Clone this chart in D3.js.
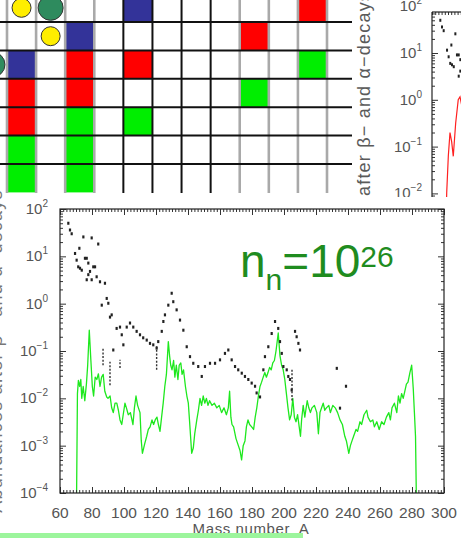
<!DOCTYPE html>
<html><head><meta charset="utf-8">
<script src="https://cdn.jsdelivr.net/npm/d3@7"></script>
<style>
body{margin:0;background:#fff}
svg{display:block}
text{font-family:"Liberation Sans",Arial,Helvetica,sans-serif}
</style>
</head><body>
<svg id="c" width="461" height="538"></svg>
<script>
// ---------------- DATA ----------------
const massTicks = [60,80,100,120,140,160,180,200,220,240,260,280,300];
const decadeExps = [-4,-3,-2,-1,0,1,2];
const upperDecadeExps = [-2,-1,0,1,2];
const yLabelText = "Abundances after \u03b2\u2212 and \u03b1\u2212decays";
const xLabelText = "Mass number  A";

// green: calculated abundances, n_n = 10^26  [mass number, abundance]
const greenSeries = [
[70.3,5.0e-5],[70.9,1.26e-2],[71.5,2.4e-2],[72.3,1.78e-2],[73.0,2.5e-2],[73.6,1.0e-2],[74.5,1.78e-2],[75.5,8.9e-3],
[76.5,2.0e-2],[77.3,5.0e-2],[78.3,2.75e-1],[79.3,6.3e-2],[80.2,1.78e-2],[81.0,1.12e-2],[82.0,2.8e-2],[83.0,2.5e-2],
[84.0,3.3e-2],[85.0,1.78e-2],[86.0,2.8e-2],[87.0,3.2e-2],[88.0,1.41e-2],[89.2,1.07e-2],[90.0,1.0e-2],[91.3,1.12e-2],
[92.3,6.3e-3],[93.3,5.0e-3],[94.4,7.9e-3],[95.5,7.9e-3],[96.5,5.6e-3],[97.5,3.5e-3],[98.6,2.8e-3],[99.5,4.5e-3],
[100.6,7.9e-3],[101.5,6.3e-3],[102.7,4.5e-3],[104.0,5.0e-3],[105.6,2.8e-3],[106.5,6.3e-3],[107.5,1.12e-2],[108.5,7.1e-3],
[110.0,5.0e-3],[110.8,1.26e-3],[111.5,6.9e-4],[112.3,8.9e-4],[113.0,1.12e-3],[114.2,1.58e-3],[115.2,2.2e-3],[116.3,2.5e-3],
[117.5,3.5e-3],[118.5,2.8e-3],[119.5,3.5e-3],[120.6,4.0e-3],[121.5,2.8e-3],[122.5,2.0e-3],[123.5,4.0e-3],[124.5,7.9e-3],
[125.5,1.78e-2],[126.5,3.2e-2],[127.7,1.58e-1],[128.5,7.9e-2],[129.2,5.0e-2],[130.0,4.0e-2],[131.0,6.3e-2],[131.8,2.8e-2],
[132.7,5.0e-2],[133.7,2.5e-2],[134.5,5.0e-2],[135.5,5.6e-2],[136.3,3.2e-2],[137.2,4.0e-2],[138.4,1.78e-2],[139.3,1.12e-2],
[140.2,7.9e-3],[141.0,3.2e-3],[142.3,6.9e-4],[143.3,8.9e-4],[144.2,1.78e-3],[145.5,3.5e-3],[146.5,5.6e-3],[147.5,1.0e-2],
[148.5,7.1e-3],[149.5,1.12e-2],[150.5,7.9e-3],[151.5,1.0e-2],[152.5,7.1e-3],[153.5,8.9e-3],[155.0,7.1e-3],[156.5,7.9e-3],
[158.0,6.3e-3],[159.5,7.1e-3],[161.0,5.0e-3],[162.5,6.3e-3],[164.0,4.5e-3],[165.2,6.3e-3],[166.0,1.41e-2],[166.8,4.0e-3],
[167.5,2.8e-3],[168.5,2.5e-3],[170.0,1.41e-3],[171.0,1.12e-3],[172.5,7.9e-4],[173.5,5.0e-4],[174.5,1.0e-3],[175.6,1.26e-3],
[176.5,2.5e-3],[177.5,3.5e-3],[178.5,2.8e-3],[179.8,2.5e-3],[181.0,2.2e-3],[182.0,4.0e-3],[183.0,6.3e-3],[184.0,1.12e-2],
[185.0,1.78e-2],[186.0,2.2e-2],[187.0,2.8e-2],[188.0,3.5e-2],[189.0,2.8e-2],[190.0,3.5e-2],[191.0,4.5e-2],[192.0,4.0e-2],
[193.0,5.6e-2],[194.0,6.3e-2],[195.0,1.0e-1],[196.4,2.4e-1],[197.5,7.9e-2],[198.5,5.0e-2],[199.5,4.0e-2],[200.5,2.5e-2],
[201.5,1.26e-2],[202.5,6.3e-3],[203.5,3.5e-3],[204.5,4.5e-3],[205.5,1.0e-2],[206.5,4.0e-3],[207.5,3.2e-3],[208.5,4.5e-3],
[209.5,2.5e-3],[210.3,1.58e-3],[211.0,3.5e-3],[212.0,7.1e-3],[213.0,4.0e-3],[214.5,8.9e-3],[215.5,6.3e-3],[216.5,5.0e-3],
[217.5,6.3e-3],[219.0,7.1e-3],[220.5,5.0e-3],[221.5,1.78e-3],[222.5,5.0e-3],[223.5,6.3e-3],[224.5,7.9e-3],[225.5,5.6e-3],
[226.5,6.3e-3],[228.0,7.1e-3],[229.0,5.0e-3],[230.5,7.1e-3],[232.0,6.3e-3],[233.5,5.0e-3],[235.0,3.5e-3],[236.5,2.8e-3],
[238.0,1.58e-3],[239.0,1.26e-3],[240.5,6.9e-4],[241.5,1.0e-3],[242.5,1.26e-3],[243.5,1.58e-3],[245.0,2.2e-3],[246.0,2.0e-3],
[247.5,3.2e-3],[248.5,2.8e-3],[250.0,4.5e-3],[251.7,5.6e-3],[252.5,4.0e-3],[254.0,3.2e-3],[255.5,3.5e-3],[256.5,2.5e-3],
[258.0,3.2e-3],[259.5,2.2e-3],[261.0,3.2e-3],[262.5,2.8e-3],[264.0,4.0e-3],[265.5,5.0e-3],[266.5,3.5e-3],[267.5,6.3e-3],
[269.0,7.9e-3],[270.5,5.0e-3],[271.5,1.12e-2],[272.5,7.9e-3],[273.5,1.26e-2],[274.5,1.0e-2],[275.5,1.41e-2],[276.5,2.0e-2],
[277.5,2.2e-2],[278.7,3.5e-2],[279.8,5.0e-2],[280.8,1.58e-2],[281.5,5.0e-3],[282.2,1.58e-3],[282.8,5.0e-5]
];

// black: solar r-abundances [mass number, abundance]
const solarSeries = [
[65.2,50],[66.25,36],[67.3,30],[69.4,11.5],[70.4,8.3],[71.4,6.0],[72.1,14.8],[72.5,5.6],[73.6,5.1],[74.6,25.7],
[75.6,9.1],[76.7,3.2],[76.7,9.1],[77.7,7.2],[77.7,4.1],[78.75,4.8],[79.8,24.5],[79.8,3.2],[80.8,6.0],[81.9,6.0],
[82.9,3.7],[83.9,18.2],[85.0,2.9],[86.1,0.93],[88.1,2.7],[89.2,1.29],[90.2,1.02],[91.25,0.52],[92.3,0.58],[93.3,0.105],
[95.4,0.30],[97.5,0.32],[98.6,0.22],[99.6,0.135],[101.7,0.32],[103.75,0.39],[105.8,0.32],[107.9,0.26],[110,0.22],[112,0.19],
[114.2,0.17],[116.25,0.145],[118.3,0.135],[120.4,0.115],[121.4,0.158],[123.6,0.26],[124.6,0.42],[125.6,0.58],[127.7,0.93],[129.8,1.66],
[130.8,1.10],[132.9,0.74],[135,0.45],[137.1,0.275],[139.2,0.123],[141.25,0.076],[143.3,0.055],[146.4,0.047],[148.6,0.029],[150.6,0.047],
[153.75,0.055],[156.9,0.055],[160,0.065],[163.1,0.089],[165.2,0.105],[167.3,0.065],[169.4,0.047],[171.4,0.040],[173.6,0.034],[175.6,0.029],
[177.7,0.025],[179.8,0.021],[181.9,0.018],[182.9,0.013],[185,0.0107],[187.1,0.040],[188.1,0.076],[190.2,0.123],[192.3,0.234],[194.4,0.42],
[196.4,0.30],[197.5,0.158],[198.6,0.089],[199.6,0.047],[201.7,0.040],[202.7,0.029],[203.75,0.025],[204.8,0.015],[206.9,0.26],[207.9,0.20],
[209,0.145],[210,0.105],[233,0.043],[238.75,0.018],[235,0.0062]
];
// dashed vertical ranges of the black data [mass number, low, high]
const solarRanges = [[86.9,0.05,0.12],[91.25,0.019,0.059],[97.5,0.044,0.065],[120.4,0.04,0.13],[205,0.009,0.04]];

// red curve of the panel at top right [mass number, abundance]
const redSeries = [[68.8,2.5e-3],[69.2,1.05e-2],[70.2,6.3e-2],[71.25,0.2],[72.3,0.126],[73.3,0.062],[74.8,0.32],[76.4,1.0],[77.5,1.15],[78.5,0.79]];

// nuclide-chart fragment at top: coloured cells and circles (column, row, kind)
const cellCols  = [0,0,0,0,0, 2,2,2,2,2,2, 4,4,4, 8,8, 10,10];
const cellRows  = [2,3,4,5,6, 1,2,3,4,5,6, 0,2,4, 1,3, 0,2];
const cellKinds = ["b","r","r","g","g","b","r","r","g","g","g","b","r","g","r","g","r","g"];
const circleCols  = [0,1,1,-1];
const circleRows  = [0,0,1,2];
const circleKinds = ["y","d","y","d"];
const gridLineShade = ["g","g","g","g","k","k","k","k","g","g","g","g"];

// ---------------- DRAW ----------------
const svg = d3.select("#c");
svg.append("rect").attr("width",461).attr("height",538).attr("fill","#fff");
const fmtExp = e => e < 0 ? "\u2212" + (-e) : String(e);
const minorVals = [];
for (let e = -4; e < 2; e++) for (let m = 2; m <= 9; m++) minorVals.push(m * Math.pow(10, e));

// ===== top nuclide grid =====
const gx = d3.scaleLinear().domain([0, 11]).range([7, 327]);
const gy = d3.scaleLinear().domain([0, 7]).range([-6.4, 192.4]);
const cellFill = {b:"#333399", r:"#ff0000", g:"#00ee00"};
const gridG = svg.append("g");
gridG.selectAll("rect.cell").data(d3.range(cellCols.length)).join("rect")
  .attr("x", i => gx(cellCols[i])).attr("y", i => gy(cellRows[i]))
  .attr("width", gx(1) - gx(0)).attr("height", gy(1) - gy(0))
  .attr("fill", i => cellFill[cellKinds[i]]);
gridG.selectAll("line.v").data(gridLineShade).join("line")
  .attr("x1", (d, i) => gx(i)).attr("x2", (d, i) => gx(i)).attr("y1", 0).attr("y2", 193)
  .attr("stroke", d => d === "k" ? "#111" : "#a9a9a9").attr("stroke-width", d => d === "k" ? 2 : 2.6);
gridG.selectAll("line.h").data(d3.range(1, 7)).join("line")
  .attr("x1", 0).attr("x2", 352).attr("y1", d => gy(d)).attr("y2", d => gy(d))
  .attr("stroke", "#111").attr("stroke-width", 2);
gridG.selectAll("circle").data(d3.range(circleCols.length)).join("circle")
  .attr("cx", i => gx(circleCols[i] + 0.5)).attr("cy", i => gy(circleRows[i] + 0.5))
  .attr("r", i => circleKinds[i] === "y" ? 9.5 : 12.5)
  .attr("fill", i => circleKinds[i] === "y" ? "#ffee00" : "#2e8b5e")
  .attr("stroke", "#333").attr("stroke-width", 1);

// ===== top-right panel (partially visible) =====
const xR = d3.scaleLinear().domain([60, 300]).range([432, 816]);
const yR = d3.scaleLog().domain([1e-4, 1e2]).range([6.2 + 6 * 46.8, 6.2]);
svg.append("clipPath").attr("id", "clipR").append("rect").attr("x", 432).attr("y", 12).attr("width", 40).attr("height", 185);
const pr = svg.append("g");
const rlab = pr.append("text").attr("font-size", 18).attr("letter-spacing", 1.2).attr("fill", "#5a5a5a").text(yLabelText);
let preLen = 100;
try { preLen = rlab.node().getSubStringLength(0, 11); } catch (err) {}
rlab.attr("transform", `translate(370,${196 + preLen}) rotate(-90)`);
pr.selectAll("text.tl").data(upperDecadeExps).join("text").attr("class", "tl")
  .attr("x", 422).attr("y", e => yR(Math.pow(10, e)) + 5).attr("text-anchor", "end")
  .attr("font-size", 15).attr("fill", "#555")
  .each(function (e) { const t = d3.select(this); t.append("tspan").text("10"); t.append("tspan").attr("dy", -7).attr("font-size", 10).text(fmtExp(e)); });
const prc = pr.append("g").attr("clip-path", "url(#clipR)");
prc.append("g").attr("transform", "translate(432,0)").attr("color", "#333")
  .call(d3.axisLeft(yR).tickValues(decadeExps.map(e => Math.pow(10, e))).tickSize(-6).tickFormat(""))
  .call(g => g.select(".domain").remove());
prc.append("g").attr("transform", "translate(432,0)").attr("color", "#333")
  .call(d3.axisLeft(yR).tickValues(minorVals).tickSize(-3).tickFormat(""))
  .call(g => g.select(".domain").remove());
prc.append("g").attr("transform", "translate(0,12)").attr("color", "#333")
  .call(d3.axisTop(xR).tickValues(d3.range(60, 302, 2)).tickSize(-3).tickFormat(""))
  .call(g => g.select(".domain").remove());
prc.selectAll("rect.sd").data(solarSeries).join("rect")
  .attr("x", d => xR(d[0]) - 1).attr("y", d => yR(d[1]) - 1.5).attr("width", 2).attr("height", 3).attr("fill", "#222");
prc.append("path").datum(redSeries).attr("fill", "none").attr("stroke", "#ff2020").attr("stroke-width", 1.2)
  .attr("d", d3.line().x(d => xR(d[0])).y(d => yR(d[1])));
pr.append("line").attr("x1", 432).attr("x2", 432).attr("y1", 12).attr("y2", 197).attr("stroke", "#222").attr("stroke-width", 1.2);
pr.append("line").attr("x1", 432).attr("x2", 461).attr("y1", 12).attr("y2", 12).attr("stroke", "#222").attr("stroke-width", 1.2);

// ===== lower main panel =====
svg.append("rect").attr("x", 0).attr("y", 197).attr("width", 461).attr("height", 341).attr("fill", "#fff");
const x = d3.scaleLinear().domain([60, 300]).range([60, 444]);
const y = d3.scaleLog().domain([1e-4, 1e2]).range([493, 209]);

svg.append("text").attr("transform", "translate(1.5,351) rotate(-90)").attr("text-anchor", "middle")
  .attr("font-size", 18).attr("letter-spacing", 1.2).attr("fill", "#777").text(yLabelText);

svg.append("clipPath").attr("id", "clipL").append("rect").attr("x", 60).attr("y", 209).attr("width", 384).attr("height", 284);
const plot = svg.append("g").attr("clip-path", "url(#clipL)");
plot.append("path").datum(greenSeries).attr("fill", "none").attr("stroke", "#1ee81e").attr("stroke-width", 1.3)
  .attr("stroke-linejoin", "round")
  .attr("d", d3.line().x(d => x(d[0])).y(d => y(d[1])));
plot.selectAll("line.rng").data(solarRanges).join("line")
  .attr("x1", d => x(d[0])).attr("x2", d => x(d[0])).attr("y1", d => y(d[1])).attr("y2", d => y(d[2]))
  .attr("stroke", "#333").attr("stroke-width", 1.4).attr("stroke-dasharray", "2,1.6");
plot.selectAll("rect.sd").data(solarSeries).join("rect")
  .attr("x", d => x(d[0]) - 1.1).attr("y", d => y(d[1]) - 1.5).attr("width", 2.2).attr("height", 3).attr("fill", "#222");

// axes (inward ticks on all four sides)
const axCol = "#333";
function axes(gen, tr, vals, size) {
  svg.append("g").attr("transform", tr).attr("color", axCol)
    .call(gen.tickValues(vals).tickSize(size).tickFormat(""))
    .call(g => g.select(".domain").remove());
}
const majors = decadeExps.map(e => Math.pow(10, e));
axes(d3.axisLeft(y), "translate(60,0)", majors, -6);
axes(d3.axisLeft(y), "translate(60,0)", minorVals, -3);
axes(d3.axisRight(y), "translate(444,0)", majors, -6);
axes(d3.axisRight(y), "translate(444,0)", minorVals, -3);
axes(d3.axisBottom(x), "translate(0,493)", massTicks, -6);
axes(d3.axisBottom(x), "translate(0,493)", d3.range(60, 301, 2), -3);
axes(d3.axisTop(x), "translate(0,209)", massTicks, -6);
axes(d3.axisTop(x), "translate(0,209)", d3.range(60, 301, 2), -3);
svg.append("rect").attr("x", 60).attr("y", 209).attr("width", 384).attr("height", 284)
  .attr("fill", "none").attr("stroke", "#222").attr("stroke-width", 1.2);

// tick labels
svg.append("g").selectAll("text").data(decadeExps).join("text")
  .attr("x", 48).attr("y", e => y(Math.pow(10, e)) + 5).attr("text-anchor", "end")
  .attr("font-size", 15).attr("fill", "#555")
  .each(function (e) { const t = d3.select(this); t.append("tspan").text("10"); t.append("tspan").attr("dy", -7).attr("font-size", 10).text(fmtExp(e)); });
svg.append("g").selectAll("text").data(massTicks).join("text")
  .attr("x", d => x(d)).attr("y", 518).attr("text-anchor", "middle")
  .attr("font-size", 15.5).attr("fill", "#555").text(d => d);
svg.append("text").attr("x", 251).attr("y", 534).attr("text-anchor", "middle")
  .attr("font-size", 15).attr("letter-spacing", 0.6).attr("fill", "#555")
  .style("white-space", "pre").text(xLabelText);

// n_n = 10^26 annotation
const ann = svg.append("text").attr("x", 240).attr("y", 277).attr("font-size", 46).attr("fill", "#1f8c1f");
ann.append("tspan").text("n");
ann.append("tspan").attr("font-size", 30).attr("dy", 13).text("n");
ann.append("tspan").attr("dy", -13).text("=10");
ann.append("tspan").attr("font-size", 30).attr("dy", -10).text("26");

// strip of next figure part at the bottom
svg.append("rect").attr("x", 0).attr("y", 533).attr("width", 303).attr("height", 5).attr("fill", "#9cf59c");
</script>
</body></html>
